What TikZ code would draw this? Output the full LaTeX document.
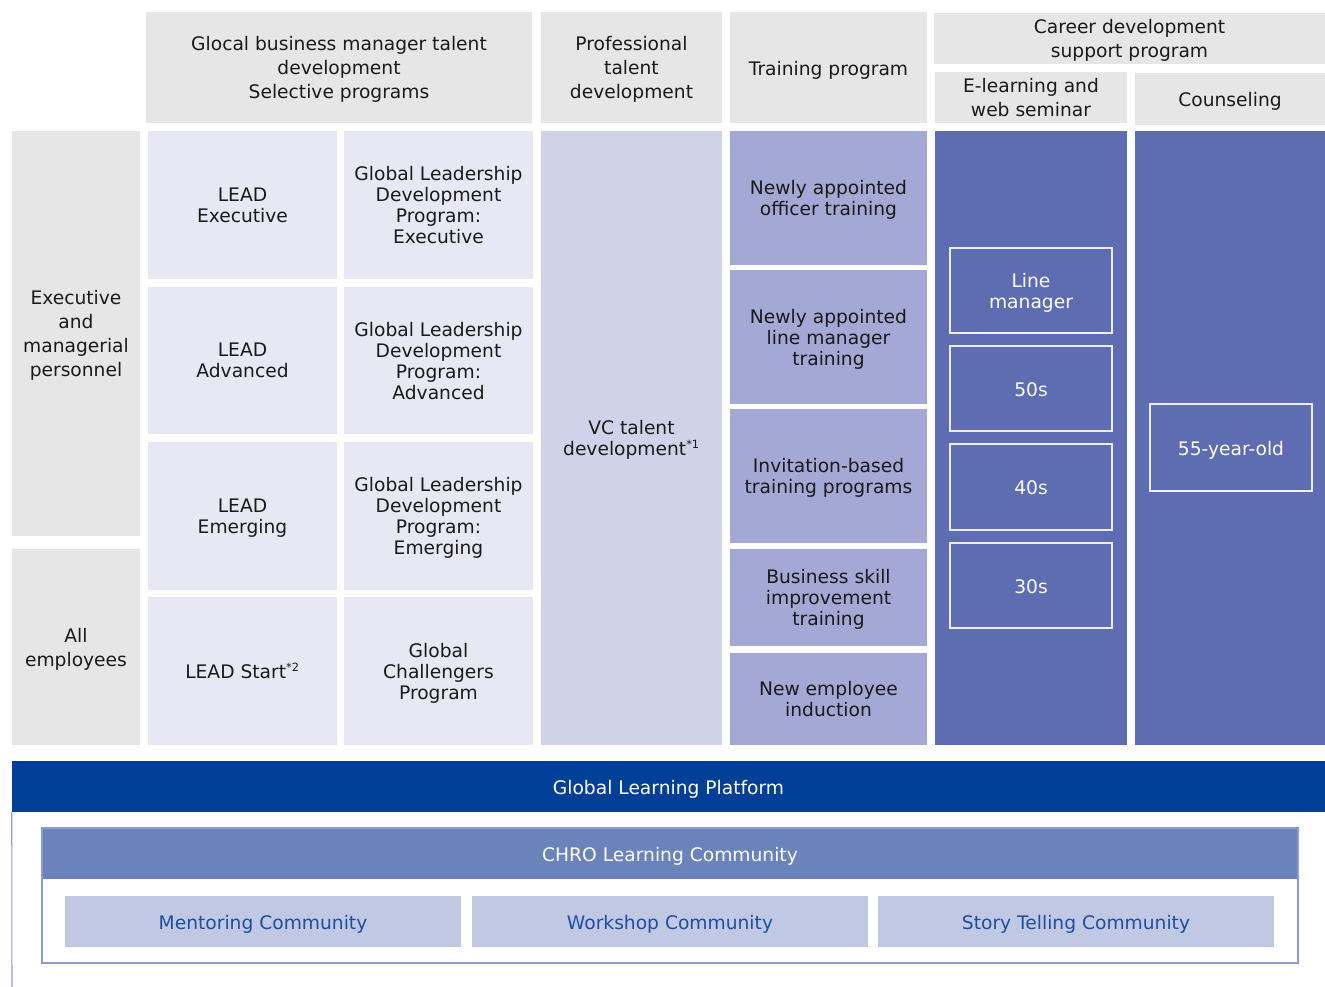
\documentclass[tikz,border=0pt]{standalone}
\usepackage{fontspec}
\setmainfont{DejaVu Sans}
\usepackage{tikz}
\usetikzlibrary{positioning}
\definecolor{hdgray}{HTML}{E6E6E6}
\definecolor{txtdark}{HTML}{1A1A1A}
\definecolor{leadfill}{HTML}{E8E8F4}
\definecolor{vcfill}{HTML}{D0D2EA}
\definecolor{trainfill}{HTML}{A3A8D4}
\definecolor{careerfill}{HTML}{5E6CB2}
\definecolor{glpblue}{HTML}{003F98}
\definecolor{chrofill}{HTML}{6A83BA}
\definecolor{chroline}{HTML}{8C9DCB}
\definecolor{commfill}{HTML}{C0C8E3}
\definecolor{commtext}{HTML}{1F4E9F}
\tikzset{
    sz/.style 2 args={minimum width=#1*0.75pt, minimum height=#2*0.75pt},
    cell/.style={rectangle, inner sep=0pt, align=center, text=txtdark,
        text depth=0pt, font=\fontsize{14}{15.75}\selectfont},
    oneline/.style={text height=11.8pt},
    head/.style={cell, fill=hdgray, font=\fontsize{14}{18}\selectfont},
    lead/.style={cell, fill=leadfill},
    train/.style={cell, fill=trainfill},
    career/.style={cell, fill=careerfill},
    agebox/.style={cell, draw=white!88!careerfill, line width=0.9pt, text=white},
    band/.style={cell, oneline, text=white},
    comm/.style={cell, oneline, fill=commfill, text=commtext, sz={396}{51}},
    frameline/.style={draw=chroline, line width=0.8pt}
}
\newcommand{\sref}[1]{\textsuperscript{\fontsize{8.5}{8.5}\selectfont *#1}}

\begin{document}
\begin{tikzpicture}[x=0.75pt,y=-0.75pt]
    \useasboundingbox (0,0) rectangle (1325,987);

    % column heads
    \node[head, sz={386}{111}] (hglocal) at (339,67.5) {Glocal business manager talent\\development\\Selective programs};
    \node[head, sz={181}{111}] (hprof) at (631.5,67.5) {Professional\\talent\\development};
    \node[head, oneline, sz={197}{111}] (htrain) at (828.5,67.5) {Training program};
    \node[head, sz={391}{51}] (hcareer) at (1129.5,38.5) {Career development\\support program};
    \node[head, sz={192}{51}] (helearn) at (1031,97.5) {E-learning and\\web seminar};
    \node[head, oneline, sz={190}{52}] (hcouns) at (1230,99) {Counseling};

    % target groups
    \node[head, sz={128}{405}] (execm) at (76,333.5) {Executive\\and\\managerial\\personnel};
    \node[head, sz={128}{196}] (allemp) at (76,647) {All\\employees};

    % selective programs
    \node[lead, sz={189}{148}] (lexec) at (242.5,205) {LEAD\\Executive};
    \node[lead, sz={189}{147}] (ladv) at (242.5,360.5) {LEAD\\Advanced};
    \node[lead, sz={189}{148}] (lemer) at (242.5,516) {LEAD\\Emerging};
    \node[lead, oneline, sz={189}{148}] (lstart) at (242.5,671) {LEAD Start\sref{2}};
    \node[lead, sz={189}{148}] (gexec) at (438.5,205) {Global Leadership\\Development\\Program:\\Executive};
    \node[lead, sz={189}{147}] (gadv) at (438.5,360.5) {Global Leadership\\Development\\Program:\\Advanced};
    \node[lead, sz={189}{148}] (gemer) at (438.5,516) {Global Leadership\\Development\\Program:\\Emerging};
    \node[lead, sz={189}{148}] (gchal) at (438.5,671) {Global\\Challengers\\Program};

    % professional talent
    \node[cell, fill=vcfill, sz={181}{614}] (vc) at (631.5,438) {VC talent\\development\sref{1}};

    % training program
    \node[train, sz={197}{134}] (tofficer) at (828.5,198) {Newly appointed\\officer training};
    \node[train, sz={197}{134}] (tline) at (828.5,337) {Newly appointed\\line manager\\training};
    \node[train, sz={197}{134}] (tinvite) at (828.5,476) {Invitation-based\\training programs};
    \node[train, sz={197}{97}] (tskill) at (828.5,597.5) {Business skill\\improvement\\training};
    \node[train, sz={197}{92}] (tnew) at (828.5,699) {New employee\\induction};

    % career development support
    \node[career, sz={192}{614}] (elearn) at (1031,438) {};
    \node[career, sz={190}{614}] (couns) at (1230,438) {};
    \node[agebox, sz={162}{85}] (aline) at (1031,290.5) {Line\\manager};
    \node[agebox, oneline, sz={162}{85}] (a50) at (1031,388.5) {50s};
    \node[agebox, oneline, sz={162}{86}] (a40) at (1031,487) {40s};
    \node[agebox, oneline, sz={162}{85}] (a30) at (1031,585.5) {30s};
    \node[agebox, oneline, sz={162}{87}] (a55) at (1231,447.5) {55-year-old};

    % learning platform
    \node[band, fill=glpblue, sz={1313}{51}] (glp) at (668.5,786.5) {Global Learning Platform};
    \coordinate (glpend) at (12,987);
    \draw[frameline] (glp.south west) -- (glpend);

    \node[band, fill=chrofill, sz={1256}{51}] (chrohead) at (670,853.5) {CHRO Learning Community};
    \node[rectangle, frameline, line width=1.1pt, sz={1256}{135}] (chro) at (670,895.5) {};
    \node[comm] (mentor) at (263,921.5) {Mentoring Community};
    \node[comm] (workshop) at (670,921.5) {Workshop Community};
    \node[comm] (story) at (1076,921.5) {Story Telling Community};
\end{tikzpicture}
\end{document}
